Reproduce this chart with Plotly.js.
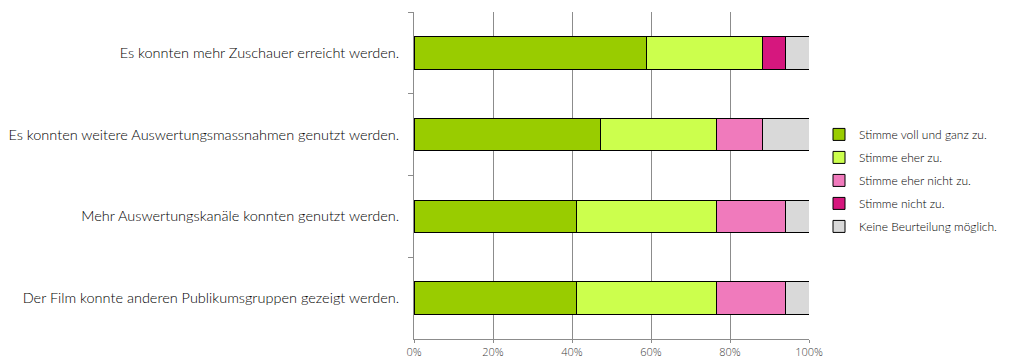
<!DOCTYPE html>
<html>
<head>
<meta charset="utf-8">
<script src="https://cdn.plot.ly/plotly-3.0.1.min.js"></script>
<style>html,body{margin:0;padding:0;background:#fff;}#chart{width:1016px;height:360px;}</style>
</head>
<body>
<div id="chart"></div>
<script>
// Categories listed top to bottom
const categories = [
  "Es konnten mehr Zuschauer erreicht werden.",
  "Es konnten weitere Auswertungsmassnahmen genutzt werden.",
  "Mehr Auswertungskanäle konnten genutzt werden.",
  "Der Film konnte anderen Publikumsgruppen gezeigt werden."
];
const seriesNames = [
  "Stimme voll und ganz zu.",
  "Stimme eher zu.",
  "Stimme eher nicht zu.",
  "Stimme nicht zu.",
  "Keine Beurteilung möglich."
];
const vollUndGanz = [58.8, 47.1, 41.2, 41.2];
const eher = [29.4, 29.4, 35.3, 35.3];
const eherNicht = [0, 11.8, 17.6, 17.6];
const nicht = [5.9, 0, 0, 0];
const keine = [5.9, 11.8, 5.9, 5.9];
const xTickVals = [0, 20, 40, 60, 80, 100];
const xTickText = ["0%", "20%", "40%", "60%", "80%", "100%"];

const colors = ["#99cc00", "#ccff4d", "#f07abc", "#d6177e", "#d9d9d9"];
const values = [vollUndGanz, eher, eherNicht, nicht, keine];

const traces = values.map((v, i) => ({
  type: "bar",
  orientation: "h",
  name: seriesNames[i],
  y: categories,
  x: v,
  legendgroup: "g" + i,
  marker: { color: colors[i], line: { color: "#000", width: 1 } },
  hoverinfo: "x+name"
}));

const labelFont = { family: "Lato, 'DejaVu Sans', sans-serif", size: 14.5, color: "#000", weight: 300 };

const layout = {
  width: 1016,
  height: 360,
  margin: { l: 414, r: 207, t: 12, b: 21, autoexpand: false },
  barmode: "stack",
  bargap: 0.6,
  paper_bgcolor: "#fff",
  plot_bgcolor: "#fff",
  font: labelFont,
  xaxis: {
    range: [0, 100],
    tickvals: xTickVals,
    ticktext: xTickText,
    showgrid: true,
    gridcolor: "#8c8c8c",
    gridwidth: 1,
    zeroline: false,
    showline: true,
    linecolor: "#8c8c8c",
    ticks: "outside",
    ticklen: 3,
    tickcolor: "#8c8c8c",
    ticklabelstandoff: 0,
    tickfont: { family: "'Open Sans', sans-serif", size: 11, color: "#404040" },
    fixedrange: true
  },
  yaxis: {
    type: "category",
    autorange: "reversed",
    showline: true,
    linecolor: "#8c8c8c",
    ticks: "outside",
    tickson: "boundaries",
    ticklen: 5,
    tickcolor: "#8c8c8c",
    ticklabelstandoff: 11,
    showgrid: false,
    tickfont: labelFont,
    fixedrange: true
  },
  legend: {
    xref: "paper",
    traceorder: "grouped",
    tracegroupgap: 4,
    font: { family: "Lato, sans-serif", size: 12, color: "#000", weight: 300 },
    bgcolor: "rgba(0,0,0,0)"
  },
  showlegend: true
};
layout.legend.x = (819 - 414) / (1016 - 414 - 207);
layout.legend.y = 0.67;
layout.legend.yanchor = "top";
layout.legend.xanchor = "left";

Plotly.newPlot("chart", traces, layout, { displayModeBar: false, staticPlot: true });
</script>
</body>
</html>
